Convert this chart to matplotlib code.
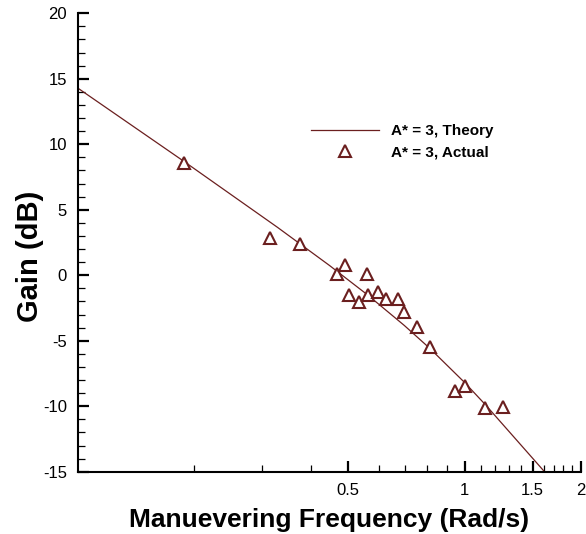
import numpy as np
import matplotlib
matplotlib.use('Agg')
import matplotlib.pyplot as plt
from matplotlib.ticker import FixedLocator, NullFormatter

plt.rcParams['font.family'] = ['Liberation Sans', 'DejaVu Sans']
plt.rcParams['axes.unicode_minus'] = False

# Theory curve
theory_freq = [0.1, 0.188, 0.328, 0.447, 0.561, 0.698, 0.814, 1.0, 1.133, 1.586, 1.62]
theory_gain = [14.28, 8.69, 3.66, 0.75, -1.50, -3.83, -5.60, -8.19, -9.90, -14.79, -15.1]

# Measured points
actual_freq = [0.188, 0.314, 0.3755, 0.469, 0.491, 0.501, 0.534, 0.558, 0.563,
               0.597, 0.626, 0.672, 0.699, 0.751, 0.814, 0.943, 1.002, 1.127, 1.254]
actual_gain = [8.57, 2.85, 2.42, 0.11, 0.79, -1.52, -2.06, 0.11, -1.49,
               -1.30, -1.80, -1.83, -2.79, -3.93, -5.46, -8.84, -8.46, -10.11, -10.06]

major_x = [0.5, 1, 1.5, 2]
major_x_labels = ['0.5', '1', '1.5', '2']
minor_x = [0.2, 0.3, 0.4, 0.6, 0.7, 0.8, 0.9, 1.1, 1.2, 1.3, 1.4, 1.6, 1.7, 1.8, 1.9]

col = '#6b1f1f'

fig = plt.figure(figsize=(5.86, 5.34), dpi=100)
ax = fig.add_axes([78 / 586, 1 - 471.7 / 534, (581 - 78) / 586, (471.7 - 13.3) / 534])

ax.plot(theory_freq, theory_gain, color=col, lw=0.9, label='A* = 3, Theory')
ax.plot(actual_freq, actual_gain, ls='none', marker='^', ms=8, mfc='white',
        mec=col, mew=1.5, label='A* = 3, Actual')

ax.set_xscale('log')
ax.set_xlim(0.1, 2)
ax.set_ylim(-15, 20)

ax.xaxis.set_major_locator(FixedLocator(major_x))
ax.set_xticklabels(major_x_labels)
ax.xaxis.set_minor_locator(FixedLocator(minor_x))
ax.xaxis.set_minor_formatter(NullFormatter())
ax.set_yticks(np.arange(-15, 21, 5))
ax.yaxis.set_minor_locator(FixedLocator(np.arange(-15, 21, 1)))

for s in ['top', 'right']:
    ax.spines[s].set_visible(False)
for s in ['left', 'bottom']:
    ax.spines[s].set_linewidth(1.5)

ax.tick_params(which='major', direction='in', length=8, width=1.6, labelsize=12, pad=8)
ax.tick_params(which='minor', direction='in', length=5, width=0.9)

ax.set_xlabel('Manuevering Frequency (Rad/s)', fontsize=19, fontweight='bold')
ax.xaxis.set_label_coords(0.5, -0.08)
ax.set_ylabel('Gain (dB)', fontsize=21, fontweight='bold')
ax.yaxis.set_label_coords(-0.067, 0.47)

ax.legend(loc='upper left', bbox_to_anchor=(0.4626, 0.7575), frameon=False,
          prop={'weight': 'bold', 'size': 11}, handlelength=4.5, handletextpad=0.76,
          borderpad=0, borderaxespad=0, labelspacing=0.45)

fig.savefig('out.png', dpi=100)
